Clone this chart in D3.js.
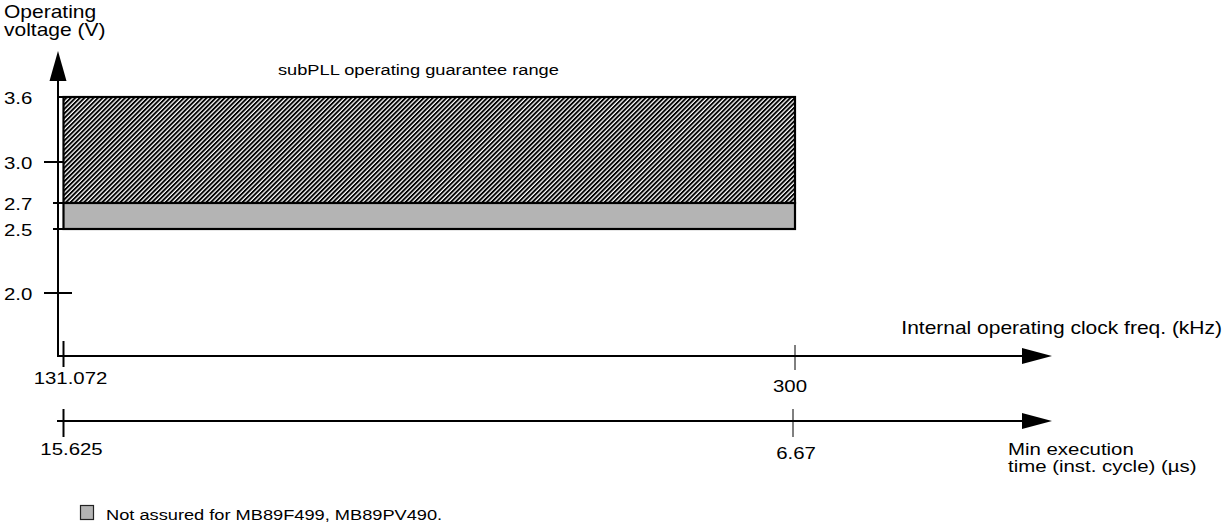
<!DOCTYPE html>
<html lang="en">
<head>
<meta charset="UTF-8">
<title>subPLL operating range</title>
<script src="https://d3js.org/d3.v7.min.js"></script>
<style>
  body { margin: 0; background: #fff; }
  text { font-family: "Liberation Sans", Arial, Helvetica, sans-serif; fill: #000; }
</style>
</head>
<body>
<script>
  // values
  const voltTicks = [2.0, 2.5, 2.7, 3.0, 3.6]
  const voltLabels = ['2.0', '2.5', '2.7', '3.0', '3.6']
  const freqTicks = [131.072, 300]
  const freqLabels = ['131.072', '300']
  const timeTicks = [15.625, 6.67]
  const timeLabels = ['15.625', '6.67']
  const bands = [
    { name: 'guaranteed', from: 2.7, to: 3.6 },
    { name: 'notAssured', from: 2.5, to: 2.7 }
  ]
  const freqSpan = [131.072, 300]

  const width = 1224
  const height = 529
  const sx = 1.2 // the picture is stretched sideways

  // schematic axis: piecewise linear
  const y = d3.scaleLinear()
    .domain(voltTicks)
    .range([293, 229, 203, 162, 97])
  const xF = d3.scaleLinear().domain(freqSpan).range([63.5, 795])
  const xT = d3.scaleLinear().domain([timeTicks[0], timeTicks[1]]).range([63.5, 793])

  const svg = d3.select('body')
    .append('svg')
    .attr('width', width)
    .attr('height', height)

  const defs = svg.append('defs')
  const pat = defs.append('pattern')
    .attr('id', 'hatch')
    .attr('patternUnits', 'userSpaceOnUse')
    .attr('width', 3.2)
    .attr('height', 3.2)
    .attr('patternTransform', 'rotate(45)')
  pat.append('rect').attr('width', 3.2).attr('height', 3.2).attr('fill', '#fff')
  pat.append('rect').attr('width', 1.9).attr('height', 3.2).attr('fill', '#000')

  function label(x, yy, str, size, anchor) {
    return svg.append('text')
      .attr('transform', `translate(${x},${yy}) scale(${sx},1)`)
      .attr('font-size', size)
      .attr('text-anchor', anchor || 'start')
      .text(str)
  }

  function arrow(points) {
    svg.append('path')
      .attr('d', 'M' + points.join('L') + 'Z')
      .attr('fill', '#000')
  }

  // bands
  svg.selectAll('rect.band')
    .data(bands)
    .enter()
    .append('rect')
    .attr('class', 'band')
    .attr('x', xF(freqSpan[0]))
    .attr('width', xF(freqSpan[1]) - xF(freqSpan[0]))
    .attr('y', d => y(d.to))
    .attr('height', d => y(d.from) - y(d.to))
    .attr('fill', d => d.name === 'guaranteed' ? 'url(#hatch)' : '#b4b4b4')
    .attr('stroke', '#000')
    .attr('stroke-width', 2.2)

  // y axis
  const ax = 58
  svg.append('line')
    .attr('x1', ax).attr('x2', ax)
    .attr('y1', 80).attr('y2', 357)
    .attr('stroke', '#000').attr('stroke-width', 2)
  arrow([[ax, 51], [ax - 8.5, 81], [ax + 8.5, 81]])

  svg.selectAll('line.vtick')
    .data(voltTicks)
    .enter()
    .append('line')
    .attr('class', 'vtick')
    .attr('x1', d => d === 3.6 ? ax : (d === 2.0 || d === 3.0 ? 44 : 53))
    .attr('x2', d => d === 2.0 || d === 3.6 ? 72 : 64)
    .attr('y1', d => y(d)).attr('y2', d => y(d))
    .attr('stroke', '#000').attr('stroke-width', 2)

  voltTicks.forEach((v, i) => label(4, y(v) + 7, voltLabels[i], 17))

  label(4, 18, 'Operating', 17.5)
  label(4, 36, 'voltage (V)', 17.5)
  label(278, 75, 'subPLL operating guarantee range', 15.2)

  // frequency axis
  const fy = 356
  svg.append('line')
    .attr('x1', 57).attr('x2', 1023)
    .attr('y1', fy).attr('y2', fy)
    .attr('stroke', '#000').attr('stroke-width', 2)
  arrow([[1052, fy], [1022, fy - 8], [1022, fy + 8]])

  svg.selectAll('line.ftick')
    .data(freqTicks)
    .enter()
    .append('line')
    .attr('class', 'ftick')
    .attr('x1', d => xF(d)).attr('x2', d => xF(d))
    .attr('y1', (d, i) => i === 0 ? fy - 15 : fy - 11)
    .attr('y2', (d, i) => i === 0 ? fy + 11 : fy + 14)
    .attr('stroke', '#000')
    .attr('stroke-width', (d, i) => i === 0 ? 2 : 1)

  freqTicks.forEach((v, i) => label(xF(v) + (i === 0 ? 7 : -5), i === 0 ? 384 : 392, freqLabels[i], 17, 'middle'))
  label(1222, 334, 'Internal operating clock freq. (kHz)', 17.5, 'end')

  // execution time axis
  const ty = 421
  svg.append('line')
    .attr('x1', 57).attr('x2', 1023)
    .attr('y1', ty).attr('y2', ty)
    .attr('stroke', '#000').attr('stroke-width', 2)
  arrow([[1052, ty], [1022, ty - 8], [1022, ty + 8]])

  svg.selectAll('line.ttick')
    .data(timeTicks)
    .enter()
    .append('line')
    .attr('class', 'ttick')
    .attr('x1', d => xT(d)).attr('x2', d => xT(d))
    .attr('y1', ty - 12)
    .attr('y2', ty + 16)
    .attr('stroke', '#000')
    .attr('stroke-width', (d, i) => i === 0 ? 2 : 1)

  timeTicks.forEach((v, i) => label(xT(v) + (i === 0 ? 8 : 3), i === 0 ? 455 : 459, timeLabels[i], 17, 'middle'))
  label(1008, 455, 'Min execution', 17)
  label(1008, 472, 'time (inst. cycle) (\u00b5s)', 17)

  // legend
  svg.append('rect')
    .attr('x', 80.5).attr('y', 505.5)
    .attr('width', 13).attr('height', 14)
    .attr('fill', '#b4b4b4')
    .attr('stroke', '#222').attr('stroke-width', 1.2)
  label(106, 520, 'Not assured for MB89F499, MB89PV490.', 15.2)
</script>
</body>
</html>
